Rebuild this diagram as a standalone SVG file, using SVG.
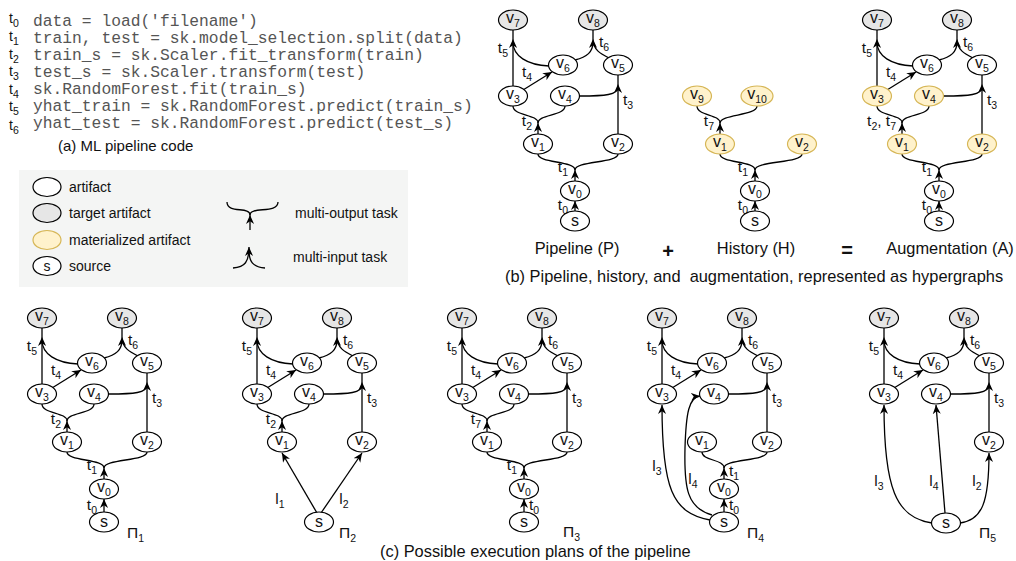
<svg xmlns="http://www.w3.org/2000/svg" width="1016" height="561" viewBox="0 0 1016 561">
<defs>
<marker id="ah" viewBox="0 0 10 10" refX="10" refY="5" markerWidth="9" markerHeight="9" markerUnits="userSpaceOnUse" orient="auto"><path d="M0,0.5 L10,5 L0,9.5 L3,5 z" fill="#000"/></marker>
<style>
.n{fill:#fff;stroke:#000;stroke-width:1.2}
.g{fill:#e6e6e6;stroke:#000;stroke-width:1.2}
.y{fill:#fff2cc;stroke:#d6b656;stroke-width:1.2}
.e{fill:none;stroke:#000;stroke-width:1.3}
.a{marker-end:url(#ah)}
text{font-family:"Liberation Sans",Arial,sans-serif;fill:#111}
.nl{font-size:16px;text-anchor:middle}
.tl{font-size:15.5px}
.ct{font-size:14px}
.en{text-anchor:end}
.mid{text-anchor:middle}
.s{font-size:10.5px}
.code{font-family:"Liberation Mono","Courier New",monospace;font-size:16.3px;fill:#555}
.cap{font-size:16.4px}
.lg{font-size:14px}
.op{font-size:20px;font-weight:bold;text-anchor:middle}
</style>
</defs>
<rect width="1016" height="561" fill="#fff"/>

<!-- (a) code -->
<g id="code">
<text class="ct" x="9" y="23">t<tspan class="s" dy="4">0</tspan></text>
<text class="ct" x="9" y="41">t<tspan class="s" dy="4">1</tspan></text>
<text class="ct" x="9" y="59">t<tspan class="s" dy="4">2</tspan></text>
<text class="ct" x="9" y="76">t<tspan class="s" dy="4">3</tspan></text>
<text class="ct" x="9" y="94">t<tspan class="s" dy="4">4</tspan></text>
<text class="ct" x="9" y="111">t<tspan class="s" dy="4">5</tspan></text>
<text class="ct" x="9" y="130">t<tspan class="s" dy="4">6</tspan></text>
<text class="code" x="33" y="26">data = load('filename')</text>
<text class="code" x="33" y="43">train, test = sk.model_selection.split(data)</text>
<text class="code" x="33" y="60">train_s = sk.Scaler.fit_transform(train)</text>
<text class="code" x="33" y="77">test_s = sk.Scaler.transform(test)</text>
<text class="code" x="33" y="94">sk.RandomForest.fit(train_s)</text>
<text class="code" x="33" y="111">yhat_train = sk.RandomForest.predict(train_s)</text>
<text class="code" x="33" y="128">yhat_test = sk.RandomForest.predict(test_s)</text>
<text class="cap" x="58" y="151" style="font-size:15px">(a) ML pipeline code</text>
</g>

<!-- legend -->
<g id="legend">
<rect x="19" y="170" width="389" height="117" fill="#f4f5f4"/>
<ellipse class="n" cx="47" cy="187" rx="14" ry="9.5"/>
<ellipse class="g" cx="47" cy="213" rx="14" ry="9.5"/>
<ellipse class="y" cx="47" cy="240" rx="14" ry="9.5"/>
<ellipse class="n" cx="47" cy="266" rx="14" ry="9.5"/>
<text class="nl" x="47" y="271" style="font-size:14px">s</text>
<text class="lg" x="69" y="192">artifact</text>
<text class="lg" x="69" y="218">target artifact</text>
<text class="lg" x="69" y="245">materialized artifact</text>
<text class="lg" x="69" y="271">source</text>
<path class="e" d="M227,202 C227,214 250,206 250,215"/>
<path class="e" d="M278,202 C278,214 250,206 250,215"/>
<path class="e a" d="M250,230 L250,215"/>
<path class="e a" d="M233,268 C245,267 249,262 249,247"/>
<path class="e" d="M265,268 C253,267 249,262 249,250"/>
<text class="lg" x="295" y="218">multi-output task</text>
<text class="lg" x="293" y="262">multi-input task</text>
</g>

<!-- connectors -->
<g id="connectors">
<!-- P -->
<g transform="translate(513,20)">
<path class="e a" d="M62,191 L62,181"/>
<path class="e a" d="M62,161 L62,150"/><path class="e" d="M62,150 C62,141 25,143 25,134"/><path class="e" d="M62,150 C62,141 105,143 105,134"/>
<path class="e a" d="M25,114 L25,103"/><path class="e" d="M25,103 C25,94 0,96 0,86"/><path class="e" d="M25,103 C25,94 52,96 52,86"/>
<path class="e a" d="M105,114 L105,64"/><path class="e" d="M67,76 C92,76 105,75 105,67"/><path class="e" d="M105,64 L105,55"/>
<path class="e a" d="M0,66 L0,19"/><path class="e" d="M36,46 C14,45 0,36 0,22"/><path class="e" d="M0,19 L0,10"/>
<path class="e a" d="M10,70 L39,52"/>
<path class="e" d="M62,40 C74,37 80,32 80,22"/><path class="e a" d="M96,38 C88,34 80,30 80,19"/><path class="e" d="M80,19 L80,10"/>
<text class="tl en" x="55" y="190">t<tspan class="s" dy="4">0</tspan></text>
<text class="tl en" x="55" y="152">t<tspan class="s" dy="4">1</tspan></text>
<text class="tl en" x="19" y="106">t<tspan class="s" dy="4">2</tspan></text>
<text class="tl" x="110" y="85">t<tspan class="s" dy="4">3</tspan></text>
<text class="tl" x="9" y="57">t<tspan class="s" dy="4">4</tspan></text>
<text class="tl en" x="-5" y="33">t<tspan class="s" dy="4">5</tspan></text>
<text class="tl" x="86" y="27">t<tspan class="s" dy="4">6</tspan></text>
</g>
<!-- H -->
<g transform="translate(693,20)">
<path class="e a" d="M62,191 L62,181"/>
<path class="e a" d="M62,161 L62,150"/><path class="e" d="M62,150 C62,141 27,143 27,134"/><path class="e" d="M62,150 C62,141 109,143 109,134"/>
<path class="e a" d="M27,114 L27,103"/><path class="e" d="M27,103 C27,94 4,96 4,86"/><path class="e" d="M27,103 C27,94 64,96 64,86"/>
<text class="tl en" x="55" y="190">t<tspan class="s" dy="4">0</tspan></text>
<text class="tl en" x="55" y="152">t<tspan class="s" dy="4">1</tspan></text>
<text class="tl en" x="21" y="106">t<tspan class="s" dy="4">7</tspan></text>
</g>
<!-- A -->
<g transform="translate(877,20)">
<path class="e a" d="M62,191 L62,181"/>
<path class="e a" d="M62,161 L62,150"/><path class="e" d="M62,150 C62,141 25,143 25,134"/><path class="e" d="M62,150 C62,141 105,143 105,134"/>
<path class="e a" d="M25,114 L25,103"/><path class="e" d="M25,103 C25,94 0,96 0,86"/><path class="e" d="M25,103 C25,94 52,96 52,86"/>
<path class="e a" d="M105,114 L105,64"/><path class="e" d="M67,76 C92,76 105,75 105,67"/><path class="e" d="M105,64 L105,55"/>
<path class="e a" d="M0,66 L0,19"/><path class="e" d="M36,46 C14,45 0,36 0,22"/><path class="e" d="M0,19 L0,10"/>
<path class="e a" d="M10,70 L39,52"/>
<path class="e" d="M62,40 C74,37 80,32 80,22"/><path class="e a" d="M96,38 C88,34 80,30 80,19"/><path class="e" d="M80,19 L80,10"/>
<text class="tl en" x="55" y="190">t<tspan class="s" dy="4">0</tspan></text>
<text class="tl en" x="55" y="152">t<tspan class="s" dy="4">1</tspan></text>
<text class="tl en" x="19" y="106">t<tspan class="s" dy="4">2</tspan><tspan dy="-4">, t</tspan><tspan class="s" dy="4">7</tspan></text>
<text class="tl" x="110" y="85">t<tspan class="s" dy="4">3</tspan></text>
<text class="tl" x="9" y="57">t<tspan class="s" dy="4">4</tspan></text>
<text class="tl en" x="-5" y="33">t<tspan class="s" dy="4">5</tspan></text>
<text class="tl" x="86" y="27">t<tspan class="s" dy="4">6</tspan></text>
</g>
<!-- Pi1 -->
<g transform="translate(42,318)">
<path class="e a" d="M62,194 L62,181"/>
<path class="e a" d="M62,161 L62,150"/><path class="e" d="M62,150 C62,141 25,143 25,134"/><path class="e" d="M62,150 C62,141 105,143 105,134"/>
<path class="e a" d="M25,114 L25,103"/><path class="e" d="M25,103 C25,94 0,96 0,86"/><path class="e" d="M25,103 C25,94 52,96 52,86"/>
<path class="e a" d="M105,114 L105,64"/><path class="e" d="M67,76 C92,76 105,75 105,67"/><path class="e" d="M105,64 L105,55"/>
<path class="e a" d="M0,66 L0,19"/><path class="e" d="M36,46 C14,45 0,36 0,22"/><path class="e" d="M0,19 L0,10"/>
<path class="e a" d="M10,70 L39,52"/>
<path class="e" d="M62,40 C74,37 80,32 80,22"/><path class="e a" d="M96,38 C88,34 80,30 80,19"/><path class="e" d="M80,19 L80,10"/>
<text class="tl en" x="55" y="192">t<tspan class="s" dy="4">0</tspan></text>
<text class="tl en" x="55" y="152">t<tspan class="s" dy="4">1</tspan></text>
<text class="tl en" x="19" y="106">t<tspan class="s" dy="4">2</tspan></text>
<text class="tl" x="110" y="85">t<tspan class="s" dy="4">3</tspan></text>
<text class="tl" x="9" y="57">t<tspan class="s" dy="4">4</tspan></text>
<text class="tl en" x="-5" y="33">t<tspan class="s" dy="4">5</tspan></text>
<text class="tl" x="86" y="27">t<tspan class="s" dy="4">6</tspan></text>
</g>
<!-- Pi2 -->
<g transform="translate(257,318)">
<path class="e a" d="M60,195 L25,135"/>
<path class="e a" d="M64,195 L105,135"/>
<path class="e a" d="M25,114 L25,103"/><path class="e" d="M25,103 C25,94 0,96 0,86"/><path class="e" d="M25,103 C25,94 52,96 52,86"/>
<path class="e a" d="M105,114 L105,64"/><path class="e" d="M67,76 C92,76 105,75 105,67"/><path class="e" d="M105,64 L105,55"/>
<path class="e a" d="M0,66 L0,19"/><path class="e" d="M36,46 C14,45 0,36 0,22"/><path class="e" d="M0,19 L0,10"/>
<path class="e a" d="M10,70 L39,52"/>
<path class="e" d="M62,40 C74,37 80,32 80,22"/><path class="e a" d="M96,38 C88,34 80,30 80,19"/><path class="e" d="M80,19 L80,10"/>
<text class="tl mid" x="23" y="186">l<tspan class="s" dy="4">1</tspan></text>
<text class="tl mid" x="87" y="186">l<tspan class="s" dy="4">2</tspan></text>
<text class="tl en" x="19" y="106">t<tspan class="s" dy="4">2</tspan></text>
<text class="tl" x="110" y="85">t<tspan class="s" dy="4">3</tspan></text>
<text class="tl" x="9" y="57">t<tspan class="s" dy="4">4</tspan></text>
<text class="tl en" x="-5" y="33">t<tspan class="s" dy="4">5</tspan></text>
<text class="tl" x="86" y="27">t<tspan class="s" dy="4">6</tspan></text>
</g>
<!-- Pi3 -->
<g transform="translate(462,318)">
<path class="e a" d="M62,194 L62,181"/>
<path class="e a" d="M62,161 L62,150"/><path class="e" d="M62,150 C62,141 25,143 25,134"/><path class="e" d="M62,150 C62,141 105,143 105,134"/>
<path class="e a" d="M25,114 L25,103"/><path class="e" d="M25,103 C25,94 0,96 0,86"/><path class="e" d="M25,103 C25,94 52,96 52,86"/>
<path class="e a" d="M105,114 L105,64"/><path class="e" d="M67,76 C92,76 105,75 105,67"/><path class="e" d="M105,64 L105,55"/>
<path class="e a" d="M0,66 L0,19"/><path class="e" d="M36,46 C14,45 0,36 0,22"/><path class="e" d="M0,19 L0,10"/>
<path class="e a" d="M10,70 L39,52"/>
<path class="e" d="M62,40 C74,37 80,32 80,22"/><path class="e a" d="M96,38 C88,34 80,30 80,19"/><path class="e" d="M80,19 L80,10"/>
<text class="tl" x="67" y="192">t<tspan class="s" dy="4">0</tspan></text>
<text class="tl en" x="55" y="152">t<tspan class="s" dy="4">1</tspan></text>
<text class="tl en" x="19" y="106">t<tspan class="s" dy="4">7</tspan></text>
<text class="tl" x="110" y="85">t<tspan class="s" dy="4">3</tspan></text>
<text class="tl" x="9" y="57">t<tspan class="s" dy="4">4</tspan></text>
<text class="tl en" x="-5" y="33">t<tspan class="s" dy="4">5</tspan></text>
<text class="tl" x="86" y="27">t<tspan class="s" dy="4">6</tspan></text>
</g>
<!-- Pi4 -->
<g transform="translate(662,318)">
<path class="e a" d="M62,194 L62,181"/>
<path class="e a" d="M62,161 L62,150"/><path class="e" d="M62,150 C62,141 40,143 40,134"/><path class="e" d="M62,150 C62,141 105,143 105,134"/>
<path class="e a" d="M48,202 C10,195 0,170 0,87"/>
<path class="e a" d="M50,197 C25,190 22,170 23,130 C24,95 27,79 38,78"/>
<path class="e a" d="M105,114 L105,64"/><path class="e" d="M67,76 C92,76 105,75 105,67"/><path class="e" d="M105,64 L105,55"/>
<path class="e a" d="M0,66 L0,19"/><path class="e" d="M36,46 C14,45 0,36 0,22"/><path class="e" d="M0,19 L0,10"/>
<path class="e a" d="M10,70 L39,52"/>
<path class="e" d="M62,40 C74,37 80,32 80,22"/><path class="e a" d="M96,38 C88,34 80,30 80,19"/><path class="e" d="M80,19 L80,10"/>
<text class="tl" x="67" y="192">t<tspan class="s" dy="4">0</tspan></text>
<text class="tl" x="67" y="158">t<tspan class="s" dy="4">1</tspan></text>
<text class="tl mid" x="-5" y="153">l<tspan class="s" dy="4">3</tspan></text>
<text class="tl mid" x="31" y="166">l<tspan class="s" dy="4">4</tspan></text>
<text class="tl" x="110" y="85">t<tspan class="s" dy="4">3</tspan></text>
<text class="tl" x="9" y="57">t<tspan class="s" dy="4">4</tspan></text>
<text class="tl en" x="-5" y="33">t<tspan class="s" dy="4">5</tspan></text>
<text class="tl" x="86" y="27">t<tspan class="s" dy="4">6</tspan></text>
</g>
<!-- Pi5 -->
<g transform="translate(884,318)">
<path class="e a" d="M48,205 C12,200 0,170 0,87"/>
<path class="e a" d="M61,195 L52,87"/>
<path class="e a" d="M76,205 C98,202 105,185 105,135"/>
<path class="e a" d="M105,114 L105,64"/><path class="e" d="M67,76 C92,76 105,75 105,67"/><path class="e" d="M105,64 L105,55"/>
<path class="e a" d="M0,66 L0,19"/><path class="e" d="M36,46 C14,45 0,36 0,22"/><path class="e" d="M0,19 L0,10"/>
<path class="e a" d="M10,70 L39,52"/>
<path class="e" d="M62,40 C74,37 80,32 80,22"/><path class="e a" d="M96,38 C88,34 80,30 80,19"/><path class="e" d="M80,19 L80,10"/>
<text class="tl mid" x="-5" y="168">l<tspan class="s" dy="4">3</tspan></text>
<text class="tl mid" x="50" y="168">l<tspan class="s" dy="4">4</tspan></text>
<text class="tl mid" x="93" y="168">l<tspan class="s" dy="4">2</tspan></text>
<text class="tl" x="110" y="85">t<tspan class="s" dy="4">3</tspan></text>
<text class="tl" x="9" y="57">t<tspan class="s" dy="4">4</tspan></text>
<text class="tl en" x="-5" y="33">t<tspan class="s" dy="4">5</tspan></text>
<text class="tl" x="86" y="27">t<tspan class="s" dy="4">6</tspan></text>
</g>
</g>

<!-- nodes P -->
<g id="panel-P" transform="translate(513,20)">
<g id="P-v7"><ellipse class="g" cx="0" cy="0" rx="14.5" ry="10"/><text class="nl" x="0" y="3">v<tspan class="s" dy="4">7</tspan></text></g>
<g id="P-v8"><ellipse class="g" cx="80" cy="0" rx="14.5" ry="10"/><text class="nl" x="80" y="3">v<tspan class="s" dy="4">8</tspan></text></g>
<g id="P-v6"><ellipse class="n" cx="50" cy="45" rx="14.5" ry="10"/><text class="nl" x="50" y="48">v<tspan class="s" dy="4">6</tspan></text></g>
<g id="P-v5"><ellipse class="n" cx="105" cy="45" rx="14.5" ry="10"/><text class="nl" x="105" y="48">v<tspan class="s" dy="4">5</tspan></text></g>
<g id="P-v3"><ellipse class="n" cx="0" cy="76" rx="14.5" ry="10"/><text class="nl" x="0" y="79">v<tspan class="s" dy="4">3</tspan></text></g>
<g id="P-v4"><ellipse class="n" cx="52" cy="76" rx="14.5" ry="10"/><text class="nl" x="52" y="79">v<tspan class="s" dy="4">4</tspan></text></g>
<g id="P-v1"><ellipse class="n" cx="25" cy="124" rx="14.5" ry="10"/><text class="nl" x="25" y="127">v<tspan class="s" dy="4">1</tspan></text></g>
<g id="P-v2"><ellipse class="n" cx="105" cy="124" rx="14.5" ry="10"/><text class="nl" x="105" y="127">v<tspan class="s" dy="4">2</tspan></text></g>
<g id="P-v0"><ellipse class="n" cx="62" cy="171" rx="14.5" ry="10"/><text class="nl" x="62" y="174">v<tspan class="s" dy="4">0</tspan></text></g>
<g id="P-s"><ellipse class="n" cx="62" cy="201" rx="14.5" ry="10"/><text class="nl" x="62" y="206">s</text></g>
</g>

<!-- nodes H -->
<g id="panel-H" transform="translate(693,20)">
<g id="H-v9"><ellipse class="y" cx="4" cy="76" rx="14.5" ry="10"/><text class="nl" x="4" y="79">v<tspan class="s" dy="4">9</tspan></text></g>
<g id="H-v10"><ellipse class="y" cx="64" cy="76" rx="16" ry="10"/><text class="nl" x="64" y="79">v<tspan class="s" dy="4">10</tspan></text></g>
<g id="H-v1"><ellipse class="y" cx="27" cy="124" rx="14.5" ry="10"/><text class="nl" x="27" y="127">v<tspan class="s" dy="4">1</tspan></text></g>
<g id="H-v2"><ellipse class="y" cx="109" cy="124" rx="14.5" ry="10"/><text class="nl" x="109" y="127">v<tspan class="s" dy="4">2</tspan></text></g>
<g id="H-v0"><ellipse class="n" cx="62" cy="171" rx="14.5" ry="10"/><text class="nl" x="62" y="174">v<tspan class="s" dy="4">0</tspan></text></g>
<g id="H-s"><ellipse class="n" cx="62" cy="201" rx="14.5" ry="10"/><text class="nl" x="62" y="206">s</text></g>
</g>

<!-- nodes A -->
<g id="panel-A" transform="translate(877,20)">
<g id="A-v7"><ellipse class="g" cx="0" cy="0" rx="14.5" ry="10"/><text class="nl" x="0" y="3">v<tspan class="s" dy="4">7</tspan></text></g>
<g id="A-v8"><ellipse class="g" cx="80" cy="0" rx="14.5" ry="10"/><text class="nl" x="80" y="3">v<tspan class="s" dy="4">8</tspan></text></g>
<g id="A-v6"><ellipse class="n" cx="50" cy="45" rx="14.5" ry="10"/><text class="nl" x="50" y="48">v<tspan class="s" dy="4">6</tspan></text></g>
<g id="A-v5"><ellipse class="n" cx="105" cy="45" rx="14.5" ry="10"/><text class="nl" x="105" y="48">v<tspan class="s" dy="4">5</tspan></text></g>
<g id="A-v3"><ellipse class="y" cx="0" cy="76" rx="14.5" ry="10"/><text class="nl" x="0" y="79">v<tspan class="s" dy="4">3</tspan></text></g>
<g id="A-v4"><ellipse class="y" cx="52" cy="76" rx="14.5" ry="10"/><text class="nl" x="52" y="79">v<tspan class="s" dy="4">4</tspan></text></g>
<g id="A-v1"><ellipse class="y" cx="25" cy="124" rx="14.5" ry="10"/><text class="nl" x="25" y="127">v<tspan class="s" dy="4">1</tspan></text></g>
<g id="A-v2"><ellipse class="y" cx="105" cy="124" rx="14.5" ry="10"/><text class="nl" x="105" y="127">v<tspan class="s" dy="4">2</tspan></text></g>
<g id="A-v0"><ellipse class="n" cx="62" cy="171" rx="14.5" ry="10"/><text class="nl" x="62" y="174">v<tspan class="s" dy="4">0</tspan></text></g>
<g id="A-s"><ellipse class="n" cx="62" cy="201" rx="14.5" ry="10"/><text class="nl" x="62" y="206">s</text></g>
</g>

<!-- nodes Pi1 -->
<g id="panel-Pi1" transform="translate(42,318)">
<g id="Pi1-v7"><ellipse class="g" cx="0" cy="0" rx="14.5" ry="10"/><text class="nl" x="0" y="3">v<tspan class="s" dy="4">7</tspan></text></g>
<g id="Pi1-v8"><ellipse class="g" cx="80" cy="0" rx="14.5" ry="10"/><text class="nl" x="80" y="3">v<tspan class="s" dy="4">8</tspan></text></g>
<g id="Pi1-v6"><ellipse class="n" cx="50" cy="45" rx="14.5" ry="10"/><text class="nl" x="50" y="48">v<tspan class="s" dy="4">6</tspan></text></g>
<g id="Pi1-v5"><ellipse class="n" cx="105" cy="45" rx="14.5" ry="10"/><text class="nl" x="105" y="48">v<tspan class="s" dy="4">5</tspan></text></g>
<g id="Pi1-v3"><ellipse class="n" cx="0" cy="76" rx="14.5" ry="10"/><text class="nl" x="0" y="79">v<tspan class="s" dy="4">3</tspan></text></g>
<g id="Pi1-v4"><ellipse class="n" cx="52" cy="76" rx="14.5" ry="10"/><text class="nl" x="52" y="79">v<tspan class="s" dy="4">4</tspan></text></g>
<g id="Pi1-v1"><ellipse class="n" cx="25" cy="124" rx="14.5" ry="10"/><text class="nl" x="25" y="127">v<tspan class="s" dy="4">1</tspan></text></g>
<g id="Pi1-v2"><ellipse class="n" cx="105" cy="124" rx="14.5" ry="10"/><text class="nl" x="105" y="127">v<tspan class="s" dy="4">2</tspan></text></g>
<g id="Pi1-v0"><ellipse class="n" cx="62" cy="171" rx="14.5" ry="10"/><text class="nl" x="62" y="174">v<tspan class="s" dy="4">0</tspan></text></g>
<g id="Pi1-s"><ellipse class="n" cx="62" cy="204" rx="14.5" ry="10"/><text class="nl" x="62" y="209">s</text></g>
<text class="tl" x="85" y="220">Π<tspan class="s" dy="4">1</tspan></text>
</g>

<!-- nodes Pi2 -->
<g id="panel-Pi2" transform="translate(257,318)">
<g id="Pi2-v7"><ellipse class="g" cx="0" cy="0" rx="14.5" ry="10"/><text class="nl" x="0" y="3">v<tspan class="s" dy="4">7</tspan></text></g>
<g id="Pi2-v8"><ellipse class="g" cx="80" cy="0" rx="14.5" ry="10"/><text class="nl" x="80" y="3">v<tspan class="s" dy="4">8</tspan></text></g>
<g id="Pi2-v6"><ellipse class="n" cx="50" cy="45" rx="14.5" ry="10"/><text class="nl" x="50" y="48">v<tspan class="s" dy="4">6</tspan></text></g>
<g id="Pi2-v5"><ellipse class="n" cx="105" cy="45" rx="14.5" ry="10"/><text class="nl" x="105" y="48">v<tspan class="s" dy="4">5</tspan></text></g>
<g id="Pi2-v3"><ellipse class="n" cx="0" cy="76" rx="14.5" ry="10"/><text class="nl" x="0" y="79">v<tspan class="s" dy="4">3</tspan></text></g>
<g id="Pi2-v4"><ellipse class="n" cx="52" cy="76" rx="14.5" ry="10"/><text class="nl" x="52" y="79">v<tspan class="s" dy="4">4</tspan></text></g>
<g id="Pi2-v1"><ellipse class="n" cx="25" cy="124" rx="14.5" ry="10"/><text class="nl" x="25" y="127">v<tspan class="s" dy="4">1</tspan></text></g>
<g id="Pi2-v2"><ellipse class="n" cx="105" cy="124" rx="14.5" ry="10"/><text class="nl" x="105" y="127">v<tspan class="s" dy="4">2</tspan></text></g>
<g id="Pi2-s"><ellipse class="n" cx="62" cy="204" rx="14.5" ry="10"/><text class="nl" x="62" y="209">s</text></g>
<text class="tl" x="82" y="220">Π<tspan class="s" dy="4">2</tspan></text>
</g>

<!-- nodes Pi3 -->
<g id="panel-Pi3" transform="translate(462,318)">
<g id="Pi3-v7"><ellipse class="g" cx="0" cy="0" rx="14.5" ry="10"/><text class="nl" x="0" y="3">v<tspan class="s" dy="4">7</tspan></text></g>
<g id="Pi3-v8"><ellipse class="g" cx="80" cy="0" rx="14.5" ry="10"/><text class="nl" x="80" y="3">v<tspan class="s" dy="4">8</tspan></text></g>
<g id="Pi3-v6"><ellipse class="n" cx="50" cy="45" rx="14.5" ry="10"/><text class="nl" x="50" y="48">v<tspan class="s" dy="4">6</tspan></text></g>
<g id="Pi3-v5"><ellipse class="n" cx="105" cy="45" rx="14.5" ry="10"/><text class="nl" x="105" y="48">v<tspan class="s" dy="4">5</tspan></text></g>
<g id="Pi3-v3"><ellipse class="n" cx="0" cy="76" rx="14.5" ry="10"/><text class="nl" x="0" y="79">v<tspan class="s" dy="4">3</tspan></text></g>
<g id="Pi3-v4"><ellipse class="n" cx="52" cy="76" rx="14.5" ry="10"/><text class="nl" x="52" y="79">v<tspan class="s" dy="4">4</tspan></text></g>
<g id="Pi3-v1"><ellipse class="n" cx="25" cy="124" rx="14.5" ry="10"/><text class="nl" x="25" y="127">v<tspan class="s" dy="4">1</tspan></text></g>
<g id="Pi3-v2"><ellipse class="n" cx="105" cy="124" rx="14.5" ry="10"/><text class="nl" x="105" y="127">v<tspan class="s" dy="4">2</tspan></text></g>
<g id="Pi3-v0"><ellipse class="n" cx="62" cy="171" rx="14.5" ry="10"/><text class="nl" x="62" y="174">v<tspan class="s" dy="4">0</tspan></text></g>
<g id="Pi3-s"><ellipse class="n" cx="62" cy="204" rx="14.5" ry="10"/><text class="nl" x="62" y="209">s</text></g>
<text class="tl" x="101" y="219">Π<tspan class="s" dy="4">3</tspan></text>
</g>

<!-- nodes Pi4 -->
<g id="panel-Pi4" transform="translate(662,318)">
<g id="Pi4-v7"><ellipse class="g" cx="0" cy="0" rx="14.5" ry="10"/><text class="nl" x="0" y="3">v<tspan class="s" dy="4">7</tspan></text></g>
<g id="Pi4-v8"><ellipse class="g" cx="80" cy="0" rx="14.5" ry="10"/><text class="nl" x="80" y="3">v<tspan class="s" dy="4">8</tspan></text></g>
<g id="Pi4-v6"><ellipse class="n" cx="50" cy="45" rx="14.5" ry="10"/><text class="nl" x="50" y="48">v<tspan class="s" dy="4">6</tspan></text></g>
<g id="Pi4-v5"><ellipse class="n" cx="105" cy="45" rx="14.5" ry="10"/><text class="nl" x="105" y="48">v<tspan class="s" dy="4">5</tspan></text></g>
<g id="Pi4-v3"><ellipse class="n" cx="0" cy="76" rx="14.5" ry="10"/><text class="nl" x="0" y="79">v<tspan class="s" dy="4">3</tspan></text></g>
<g id="Pi4-v4"><ellipse class="n" cx="52" cy="76" rx="14.5" ry="10"/><text class="nl" x="52" y="79">v<tspan class="s" dy="4">4</tspan></text></g>
<g id="Pi4-v1"><ellipse class="n" cx="40" cy="124" rx="14.5" ry="10"/><text class="nl" x="40" y="127">v<tspan class="s" dy="4">1</tspan></text></g>
<g id="Pi4-v2"><ellipse class="n" cx="105" cy="124" rx="14.5" ry="10"/><text class="nl" x="105" y="127">v<tspan class="s" dy="4">2</tspan></text></g>
<g id="Pi4-v0"><ellipse class="n" cx="62" cy="171" rx="14.5" ry="10"/><text class="nl" x="62" y="174">v<tspan class="s" dy="4">0</tspan></text></g>
<g id="Pi4-s"><ellipse class="n" cx="62" cy="204" rx="14.5" ry="10"/><text class="nl" x="62" y="209">s</text></g>
<text class="tl" x="85" y="220">Π<tspan class="s" dy="4">4</tspan></text>
</g>

<!-- nodes Pi5 -->
<g id="panel-Pi5" transform="translate(884,318)">
<g id="Pi5-v7"><ellipse class="g" cx="0" cy="0" rx="14.5" ry="10"/><text class="nl" x="0" y="3">v<tspan class="s" dy="4">7</tspan></text></g>
<g id="Pi5-v8"><ellipse class="g" cx="80" cy="0" rx="14.5" ry="10"/><text class="nl" x="80" y="3">v<tspan class="s" dy="4">8</tspan></text></g>
<g id="Pi5-v6"><ellipse class="n" cx="50" cy="45" rx="14.5" ry="10"/><text class="nl" x="50" y="48">v<tspan class="s" dy="4">6</tspan></text></g>
<g id="Pi5-v5"><ellipse class="n" cx="105" cy="45" rx="14.5" ry="10"/><text class="nl" x="105" y="48">v<tspan class="s" dy="4">5</tspan></text></g>
<g id="Pi5-v3"><ellipse class="n" cx="0" cy="76" rx="14.5" ry="10"/><text class="nl" x="0" y="79">v<tspan class="s" dy="4">3</tspan></text></g>
<g id="Pi5-v4"><ellipse class="n" cx="52" cy="76" rx="14.5" ry="10"/><text class="nl" x="52" y="79">v<tspan class="s" dy="4">4</tspan></text></g>
<g id="Pi5-v2"><ellipse class="n" cx="105" cy="124" rx="14.5" ry="10"/><text class="nl" x="105" y="127">v<tspan class="s" dy="4">2</tspan></text></g>
<g id="Pi5-s"><ellipse class="n" cx="62" cy="205" rx="14.5" ry="10"/><text class="nl" x="62" y="210">s</text></g>
<text class="tl" x="95" y="220">Π<tspan class="s" dy="4">5</tspan></text>
</g>

<!-- captions -->
<g id="captions">
<text class="cap mid" x="577" y="254">Pipeline (P)</text>
<text class="op" x="668" y="258">+</text>
<text class="cap mid" x="756" y="254">History (H)</text>
<text class="op" x="847" y="257">=</text>
<text class="cap mid" x="950" y="254">Augmentation (A)</text>
<text class="cap" x="505" y="282" xml:space="preserve">(b) Pipeline, history, and  augmentation, represented as hypergraphs</text>
<text class="cap" x="380" y="557">(c) Possible execution plans of the pipeline</text>
</g>
</svg>
